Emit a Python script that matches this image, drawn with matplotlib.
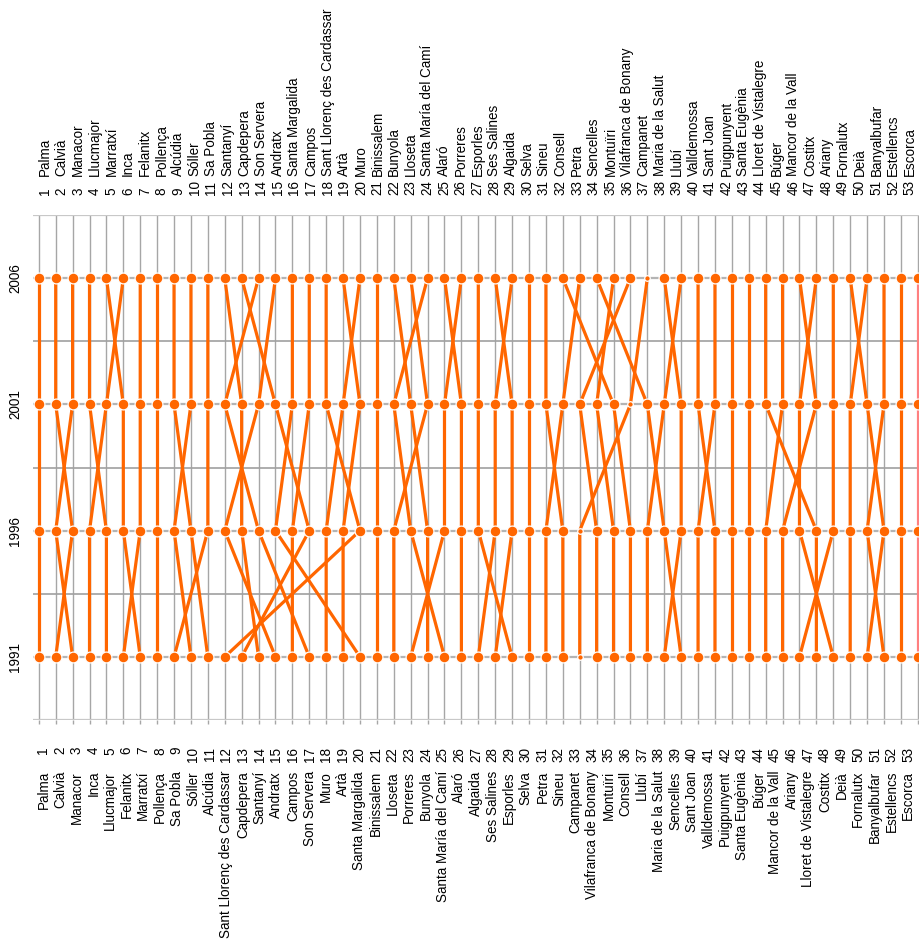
import matplotlib
matplotlib.use("Agg")
import matplotlib.pyplot as plt
from matplotlib.transforms import blended_transform_factory

plt.rcParams['font.family'] = ['Liberation Sans', 'DejaVu Sans']

years = [1991, 1996, 2001, 2006]

rank_1991 = ["Palma", "Calvià", "Manacor", "Inca", "Llucmajor", "Felanitx", "Marratxí",
             "Pollença", "Sa Pobla", "Sóller", "Alcúdia", "Sant Llorenç des Cardassar",
             "Capdepera", "Santanyí", "Andratx", "Campos", "Son Servera", "Muro", "Artà",
             "Santa Margalida", "Binissalem", "Lloseta", "Porreres", "Bunyola",
             "Santa María del Camí", "Alaró", "Algaida", "Ses Salines", "Esporles", "Selva",
             "Petra", "Sineu", "Campanet", "Vilafranca de Bonany", "Montuïri", "Consell",
             "Llubí", "Maria de la Salut", "Sencelles", "Sant Joan", "Valldemossa",
             "Puigpunyent", "Santa Eugènia", "Búger", "Mancor de la Vall", "Ariany",
             "Lloret de Vistalegre", "Costitx", "Deià", "Fornalutx", "Banyalbufar",
             "Estellencs", "Escorca"]

rank_1996 = ["Palma", "Manacor", "Calvià", "Inca", "Llucmajor", "Marratxí", "Felanitx",
             "Pollença", "Sóller", "Alcúdia", "Sa Pobla", "Andratx", "Santanyí", "Son Servera",
             "Santa Margalida", "Campos", "Capdepera", "Muro", "Artà",
             "Sant Llorenç des Cardassar", "Binissalem", "Lloseta", "Santa María del Camí",
             "Bunyola", "Porreres", "Alaró", "Esporles", "Algaida", "Ses Salines", "Selva",
             "Petra", "Sineu", "Campanet", "Vilafranca de Bonany", "Montuïri", "Consell",
             "Llubí", "Sencelles", "Maria de la Salut", "Sant Joan", "Valldemossa",
             "Puigpunyent", "Santa Eugènia", "Búger", "Mancor de la Vall", "Costitx",
             "Lloret de Vistalegre", "Ariany", "Deià", "Banyalbufar", "Fornalutx",
             "Estellencs", "Escorca"]

rank_2001 = ["Palma", "Calvià", "Manacor", "Llucmajor", "Inca", "Marratxí", "Felanitx",
             "Pollença", "Alcúdia", "Sóller", "Sa Pobla", "Son Servera", "Santanyí", "Andratx",
             "Capdepera", "Santa Margalida", "Campos", "Sant Llorenç des Cardassar", "Muro",
             "Artà", "Binissalem", "Santa María del Camí", "Bunyola", "Lloseta", "Porreres",
             "Alaró", "Esporles", "Algaida", "Ses Salines", "Selva", "Sineu", "Petra",
             "Vilafranca de Bonany", "Montuïri", "Consell", "Campanet", "Sencelles", "Llubí",
             "Maria de la Salut", "Valldemossa", "Sant Joan", "Puigpunyent", "Santa Eugènia",
             "Lloret de Vistalegre", "Búger", "Costitx", "Mancor de la Vall", "Ariany", "Deià",
             "Fornalutx", "Banyalbufar", "Estellencs", "Escorca"]

rank_2006 = ["Palma", "Calvià", "Manacor", "Llucmajor", "Marratxí", "Inca", "Felanitx",
             "Pollença", "Alcúdia", "Sóller", "Sa Pobla", "Santanyí", "Capdepera", "Son Servera",
             "Andratx", "Santa Margalida", "Campos", "Sant Llorenç des Cardassar", "Artà", "Muro",
             "Binissalem", "Bunyola", "Lloseta", "Santa María del Camí", "Alaró", "Porreres",
             "Esporles", "Ses Salines", "Algaida", "Selva", "Sineu", "Consell", "Petra",
             "Sencelles", "Montuïri", "Vilafranca de Bonany", "Campanet", "Maria de la Salut",
             "Llubí", "Valldemossa", "Sant Joan", "Puigpunyent", "Santa Eugènia",
             "Lloret de Vistalegre", "Búger", "Mancor de la Vall", "Costitx", "Ariany",
             "Fornalutx", "Deià", "Banyalbufar", "Estellencs", "Escorca"]

rankings = [rank_1991, rank_1996, rank_2001, rank_2006]

ORANGE = "#FF6600"
W, H = 920, 948
fig = plt.figure(figsize=(W / 100, H / 100), dpi=100)
ax_l, ax_r, ax_t, ax_b = 33, 920, 215, 720
ax = fig.add_axes([ax_l / W, 1 - ax_b / H, (ax_r - ax_l) / W, (ax_b - ax_t) / H])

n = len(rank_1991)
ax.set_xlim(0.657, 53.13)
ax.set_ylim(1988.5, 2008.5)

# grid
for k in range(1, n + 1):
    ax.axvline(k, color="#a6a6a6", lw=1.0, zorder=1)
for yy in [1993.5, 1998.5, 2003.5]:
    ax.axhline(yy, color="#a0a0a0", lw=1.2, zorder=1)
for yy in [1988.5, 2008.5]:
    ax.axhline(yy, color="#c8c8c8", lw=1.6, zorder=1)
for yy in years:
    ax.axhline(yy, color="#b4b4b4", lw=1.6, zorder=2)

for sp in ax.spines.values():
    sp.set_visible(False)

ax.set_xticks(range(1, n + 1))
ax.set_xticklabels([])
ax.tick_params(axis="x", length=3, color="#a6a6a6", width=1)
ax.set_yticks(years)
ax.set_yticklabels([str(y) for y in years], rotation=90, va="center", fontsize=9.75)
ax.tick_params(axis="y", length=0, pad=8)

# trajectories
for name in rank_2006:
    xs = [r.index(name) + 1 for r in rankings]
    col = "#FF8080" if name == "Escorca" else ORANGE
    ax.plot(xs, years, color=col, lw=2.3, zorder=3, solid_capstyle="butt")
    small = name == "Campanet"
    ax.plot(xs, years, linestyle="none", marker="o", ms=4 if small else 7.8,
            mfc=ORANGE, mec="white", mew=0.9, zorder=4, clip_on=True)

# labels (top: 2006 ranking, bottom: 1991 ranking)
def fx(px):
    return px / W

def fy(py):
    return 1 - py / H

for i, name in enumerate(rank_2006):
    x = fx(45 + 16.63 * i)
    fig.text(x, fy(195), str(i + 1), rotation=90, ha="center", va="bottom", fontsize=9.75)
    fig.text(x, fy(176), name, rotation=90, ha="center", va="bottom", fontsize=9.75)

for i, name in enumerate(rank_1991):
    x = fx(43.5 + 16.63 * i)
    fig.text(x, fy(747), str(i + 1), rotation=90, ha="center", va="top", fontsize=9.75)
    fig.text(x, fy(771), name, rotation=90, ha="center", va="top", fontsize=9.75)

fig.savefig("out.png", dpi=100, facecolor="white")
